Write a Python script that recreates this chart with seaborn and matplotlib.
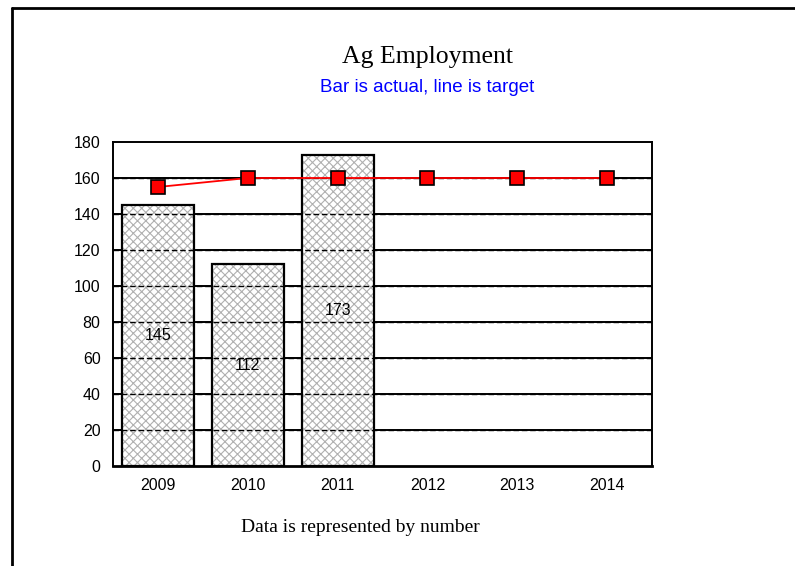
import matplotlib
matplotlib.use("Agg")
import matplotlib.pyplot as plt
import seaborn as sns
import pandas as pd
from matplotlib.lines import Line2D

# === Data ===
years = ["2009", "2010", "2011", "2012", "2013", "2014"]
actual = [145, 112, 173, None, None, None]
target = [155, 160, 160, 160, 160, 160]
y_ticks = [0, 20, 40, 60, 80, 100, 120, 140, 160, 180]

df = pd.DataFrame({"year": years, "actual": actual, "target": target})
bars_df = df.dropna(subset=["actual"])

sns.set_style("white")
plt.rcParams["font.family"] = ["Liberation Sans", "DejaVu Sans"]
plt.rcParams["text.color"] = "black"
plt.rcParams["xtick.color"] = "black"
plt.rcParams["ytick.color"] = "black"
plt.rcParams["hatch.linewidth"] = 0.8

fig = plt.figure(figsize=(7.95, 5.66), dpi=100)
ax = fig.add_axes([113 / 795, 1 - 466 / 566, 539 / 795, 324 / 566])

# solid grid lines behind the bars, dashed ones on top of them
for v in y_ticks[1:-1]:
    ax.axhline(v, color="black", lw=1.4, zorder=0)
    ax.axhline(v, color="black", lw=1.0, ls=(0, (4, 2)), zorder=3)

# hatched fill (grey hatch) then black outline
sns.barplot(data=bars_df, x="year", y="actual", order=years, width=0.8,
            facecolor="white", edgecolor="#b0b0b0", linewidth=0,
            hatch="xxxx", ax=ax, zorder=2)
sns.barplot(data=bars_df, x="year", y="actual", order=years, width=0.8,
            facecolor="none", edgecolor="black", linewidth=1.6, ax=ax, zorder=4)
labels = ax.bar_label(ax.containers[0],
                      labels=[str(int(v)) for v in bars_df["actual"]],
                      label_type="center", fontsize=11.5)
for t in labels:
    t.set_zorder(6)

sns.lineplot(x=range(len(years)), y=df["target"], ax=ax, color="red", lw=1.3,
             marker="s", markersize=10, markerfacecolor="red",
             markeredgecolor="black", markeredgewidth=1.2, zorder=5)

ax.set_xlim(-0.5, 5.5)
ax.set_ylim(0, 180)
ax.set_yticks(y_ticks)
ax.set_xticks(range(len(years)))
ax.set_xticklabels(years)
ax.set_xlabel("")
ax.set_ylabel("")
ax.tick_params(axis="x", labelsize=11.5, length=0, pad=9)
ax.tick_params(axis="y", labelsize=11.5, length=0, pad=9)
for s in ax.spines.values():
    s.set_color("black")
    s.set_linewidth(1.4)
    s.set_zorder(7)
ax.spines["bottom"].set_linewidth(2)

fig.text(427 / 795, 1 - 57 / 566, "Ag Employment", ha="center", va="center",
         fontsize=18.5, family="Liberation Serif")
fig.text(427 / 795, 1 - 88 / 566, "Bar is actual, line is target", ha="center",
         va="center", fontsize=13.5, color="blue")
fig.text(360 / 795, 1 - 528 / 566, "Data is represented by number", ha="center",
         va="center", fontsize=14, family="Liberation Serif")

# frame around the slide
fig.add_artist(Line2D([12 / 795, 12 / 795], [0, 1 - 8 / 566], color="black", lw=2))
fig.add_artist(Line2D([12 / 795, 1], [1 - 8 / 566, 1 - 8 / 566], color="black", lw=2))

fig.savefig("out.png", dpi=100)
